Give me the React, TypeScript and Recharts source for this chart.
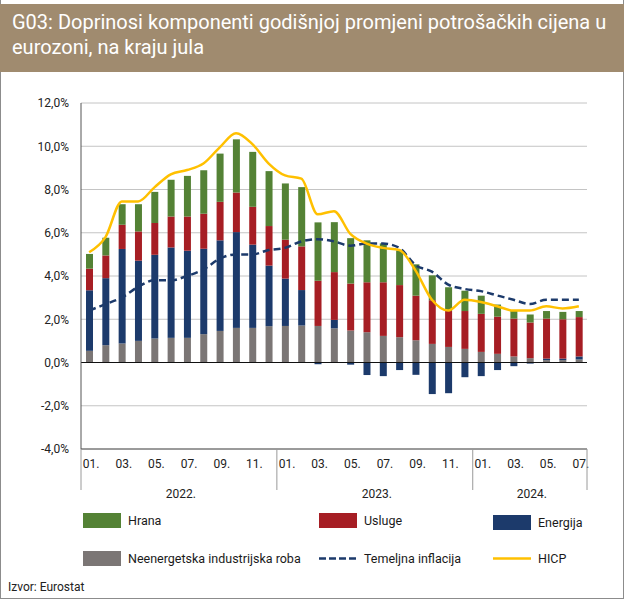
import React from 'react';
import { ComposedChart, Bar, Line, XAxis, YAxis, CartesianGrid, ReferenceLine } from 'recharts';

// mjeseci jan 2022 - jul 2024
const years = [2022, 2023, 2024];
const monthsPerYear = [12, 12, 7];

const neig = [0.54, 0.8, 0.88, 1.0, 1.11, 1.14, 1.14, 1.31, 1.46, 1.6, 1.6, 1.68,
  1.69, 1.71, 1.69, 1.58, 1.48, 1.4, 1.23, 1.17, 1.03, 0.86, 0.72, 0.63,
  0.49, 0.4, 0.28, 0.2, 0.11, 0.11, 0.14];
const energija = [2.8, 3.1, 4.37, 3.71, 3.87, 4.18, 4.03, 3.95, 4.19, 4.43, 3.85, 2.8,
  2.19, 1.64, -0.08, 0.39, -0.1, -0.58, -0.63, -0.35, -0.57, -1.46, -1.42, -0.68,
  -0.63, -0.35, -0.17, -0.05, 0.07, 0.07, 0.14];
const usluge = [1.0, 1.05, 1.12, 1.35, 1.47, 1.43, 1.58, 1.62, 1.78, 1.83, 1.75, 1.83,
  1.8, 2.02, 2.09, 2.21, 2.17, 2.31, 2.48, 2.41, 2.06, 2.02, 1.66, 1.75,
  1.76, 1.72, 1.75, 1.65, 1.85, 1.82, 1.82];
const hrana = [0.68, 0.82, 0.95, 1.26, 1.44, 1.7, 1.88, 2.01, 2.23, 2.46, 2.54, 2.54,
  2.6, 2.74, 2.7, 2.31, 2.1, 1.94, 1.8, 1.6, 1.45, 1.15, 1.1, 0.94,
  0.84, 0.56, 0.35, 0.37, 0.35, 0.34, 0.28];
const temeljna = [2.4, 2.7, 3.0, 3.5, 3.8, 3.8, 4.0, 4.3, 4.8, 5.0, 5.0, 5.2,
  5.3, 5.6, 5.7, 5.6, 5.4, 5.5, 5.5, 5.3, 4.5, 4.2, 3.6, 3.4,
  3.3, 3.1, 2.9, 2.7, 2.9, 2.9, 2.9];
const hicp = [5.1, 5.8, 7.45, 7.45, 8.1, 8.7, 8.9, 9.2, 9.95, 10.6, 10.1, 9.2,
  8.65, 8.5, 6.85, 7.0, 5.95, 5.5, 5.3, 5.2, 4.25, 2.9, 2.4, 2.9,
  2.8, 2.6, 2.4, 2.4, 2.6, 2.5, 2.6];
const yTicks = [-4, -2, 0, 2, 4, 6, 8, 10, 12];

const months: { year: number; m: number; local: number; count: number }[] = [];
years.forEach((y, yi) => {
  for (let m = 1; m <= monthsPerYear[yi]; m++) {
    months.push({ year: y, m, local: m - 1, count: monthsPerYear[yi] });
  }
});

const data = months.map((mo, i) => ({
  key: `${mo.year}-${mo.m}`,
  neig: neig[i],
  energija: energija[i],
  usluge: usluge[i],
  hrana: hrana[i],
  temeljna: temeljna[i],
  hicp: hicp[i],
}));

const C = {
  hrana: '#548235',
  usluge: '#A61E24',
  energija: '#1C3A6B',
  neig: '#7B7675',
  hicp: '#FFC000',
  header: '#A08B6F',
};

const FONT = 'Roboto, "Open Sans", sans-serif';
const W = 625;
const CH = 510;
const PLOT_LEFT = 81;
const PLOT_RIGHT = 38;
const PLOT_TOP = 103;
const X_AXIS_H = 61;
const band = (W - PLOT_LEFT - PLOT_RIGHT) / data.length;

const fmtPct = (v: number) => `${v.toFixed(1).replace('.', ',')}%`;

function MonthTick(props: any) {
  const { x, y, index } = props;
  const mo = months[index];
  if (!mo) return null;
  const els: React.ReactNode[] = [];
  if (mo.m % 2 === 1) {
    els.push(
      <text key="m" x={x + 2} y={y + 19} textAnchor="middle" fontSize={12} fill="#222" fontFamily={FONT}>
        {String(mo.m).padStart(2, '0') + '.'}
      </text>
    );
  }
  if (mo.local === 0) {
    els.push(<line key="s" x1={x - band / 2} x2={x - band / 2} y1={y} y2={y + 41} stroke="#9a9a9a" strokeWidth={1} />);
  }
  if (index === months.length - 1) {
    els.push(<line key="e" x1={x + band / 2} x2={x + band / 2} y1={y} y2={y + 41} stroke="#9a9a9a" strokeWidth={1} />);
  }
  const mid = Math.floor((mo.count - 1) / 2);
  if (mo.local === mid) {
    const cx = x + ((mo.count - 1) / 2 - mid) * band;
    els.push(
      <text key="y" x={cx + 2} y={y + 49} textAnchor="middle" fontSize={12} fill="#222" fontFamily={FONT}>
        {mo.year + '.'}
      </text>
    );
  }
  return <g>{els}</g>;
}

function LegendItem({ kind, color, label, x, y }: { kind: 'box' | 'dash' | 'line'; color: string; label: string; x: number; y: number }) {
  return (
    <div style={{ position: 'absolute', left: x, top: y, display: 'flex', alignItems: 'center', fontSize: 12.5, color: '#1a1a1a' }}>
      {kind === 'box' && <div style={{ width: 38, height: 15, background: color, marginRight: 7 }} />}
      {kind === 'dash' && (
        <svg width={38} height={15} style={{ marginRight: 7 }}>
          <line x1={0} x2={38} y1={7.5} y2={7.5} stroke={color} strokeWidth={2.5} strokeDasharray="7 3" />
        </svg>
      )}
      {kind === 'line' && (
        <svg width={38} height={15} style={{ marginRight: 7 }}>
          <line x1={0} x2={38} y1={7.5} y2={7.5} stroke={color} strokeWidth={2.5} />
        </svg>
      )}
      <span>{label}</span>
    </div>
  );
}

export default function App() {
  return (
    <div style={{ position: 'absolute', left: 0, top: 0, width: W, height: 601, background: '#fff', fontFamily: FONT, overflow: 'hidden' }}>
      <div style={{ position: 'absolute', left: 0, top: 0, width: W - 3, height: 598, border: '1px solid #8c8c8c', borderTop: 'none' }} />
      <div style={{ position: 'absolute', left: 0, top: 4, width: W - 1, height: 68, background: C.header, color: '#fff', fontSize: 20, lineHeight: '25px', padding: '6px 0 0 12px', boxSizing: 'border-box' }}>
        G03: Doprinosi komponenti godišnjoj promjeni potrošačkih cijena u
        <br />
        eurozoni, na kraju jula
      </div>
      <div style={{ position: 'absolute', left: 0, top: 0 }}>
        <ComposedChart
          width={W}
          height={CH}
          data={data}
          stackOffset="sign"
          barSize={7}
          margin={{ top: PLOT_TOP, right: PLOT_RIGHT, bottom: CH - PLOT_TOP - 346 - X_AXIS_H, left: 0 }}
        >
          <CartesianGrid vertical={false} stroke="#c4c4c4" />
          <XAxis
            dataKey="key"
            interval={0}
            height={X_AXIS_H}
            tickSize={0}
            tickMargin={0}
            tickLine={false}
            axisLine={{ stroke: '#555' }}
            tick={<MonthTick />}
          />
          <XAxis xAxisId="top" orientation="top" dataKey="key" height={0} tick={false} tickLine={false} axisLine={{ stroke: '#555' }} />
          <YAxis
            domain={[-4, 12]}
            ticks={yTicks}
            width={PLOT_LEFT}
            tickSize={0}
            tickMargin={12}
            tickFormatter={fmtPct}
            tick={{ fontSize: 12, fill: '#222', fontFamily: FONT }}
            axisLine={{ stroke: '#555' }}
            tickLine={false}
          />
          <YAxis yAxisId="r" orientation="right" width={0} domain={[-4, 12]} tick={false} tickLine={false} axisLine={{ stroke: '#555' }} />
          <Bar dataKey="neig" stackId="a" fill={C.neig} isAnimationActive={false} />
          <Bar dataKey="energija" stackId="a" fill={C.energija} isAnimationActive={false} />
          <Bar dataKey="usluge" stackId="a" fill={C.usluge} isAnimationActive={false} />
          <Bar dataKey="hrana" stackId="a" fill={C.hrana} isAnimationActive={false} />
          <ReferenceLine y={0} stroke="#111" strokeWidth={1.2} />
          <Line dataKey="temeljna" type="monotone" stroke={C.energija} strokeWidth={2.5} strokeDasharray="7 4" dot={false} isAnimationActive={false} />
          <Line dataKey="hicp" type="monotone" stroke={C.hicp} strokeWidth={2.5} dot={false} isAnimationActive={false} />
        </ComposedChart>
      </div>
      <LegendItem kind="box" color={C.hrana} label="Hrana" x={83} y={513} />
      <LegendItem kind="box" color={C.usluge} label="Usluge" x={319} y={513} />
      <LegendItem kind="box" color={C.energija} label="Energija" x={493} y={515} />
      <LegendItem kind="box" color={C.neig} label="Neenergetska industrijska roba" x={83} y={551} />
      <LegendItem kind="dash" color={C.energija} label="Temeljna inflacija" x={319} y={551} />
      <LegendItem kind="line" color={C.hicp} label="HICP" x={493} y={551} />
      <div style={{ position: 'absolute', left: 8, top: 580, fontSize: 12, color: '#222' }}>Izvor: Eurostat</div>
    </div>
  );
}
